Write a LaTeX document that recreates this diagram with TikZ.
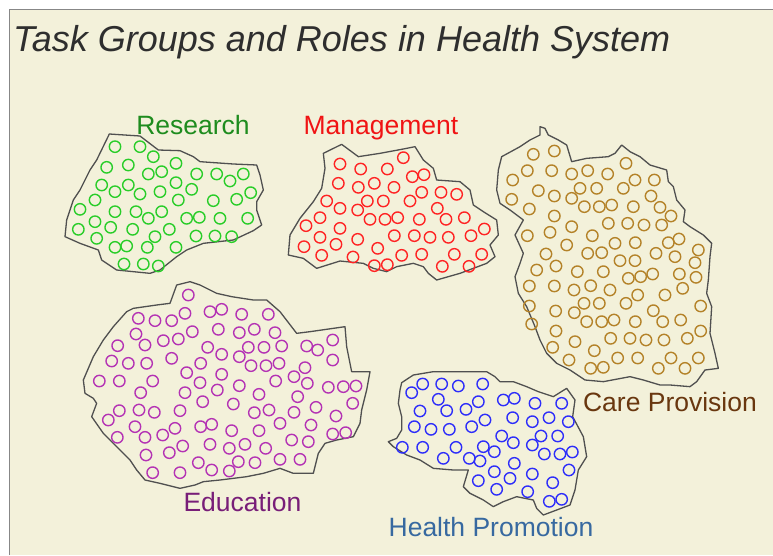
\documentclass[tikz,border=0pt]{standalone}
\usepackage{fontspec}
\setmainfont{Liberation Sans}
\definecolor{paper}{RGB}{243,241,218}
\definecolor{rimgray}{RGB}{135,135,135}
\definecolor{blobline}{RGB}{80,80,80}
\definecolor{resgreen}{RGB}{40,205,40}
\definecolor{resgreentxt}{RGB}{30,140,30}
\definecolor{mgmtred}{RGB}{255,35,35}
\definecolor{mgmtredtxt}{RGB}{240,20,20}
\definecolor{carebrown}{RGB}{180,130,40}
\definecolor{carebrowntxt}{RGB}{105,55,15}
\definecolor{edupurple}{RGB}{180,50,180}
\definecolor{edupurpletxt}{RGB}{120,30,120}
\definecolor{promoblue}{RGB}{45,45,250}
\definecolor{promobluetxt}{RGB}{55,105,160}
\tikzset{blob/.style = {draw=blobline, line width=1.3pt, line join=round}}
\tikzset{person/.style = {draw=#1, line width=1.4pt}}
\tikzset{tag/.style = {anchor=base, inner sep=0, font=\fontsize{26.5}{30}\selectfont}}

\begin{document}
\begin{tikzpicture}[x=1pt, y=-1pt]
    \useasboundingbox (0,0) rectangle (773,555);
    % Paper and frame
    \fill[white] (0,0) rectangle (773,555);
    \fill[paper] (10,10) rectangle (773,555);
    \draw[rimgray, line width=1.8pt] (9.5,555) -- (9.5,9.5) -- (773,9.5);

    \node[anchor=base west, inner sep=0, text=black!82,
          font=\itshape\fontsize{36}{42}\selectfont] (title) at (13,51)
          {Task Groups and Roles in Health System};

    % Research
    \begin{scope}[shift={(60,110)}, x=0.33333pt, y=-0.33333pt]
      \draw[blob] (148,72) -- (240,78) -- (295,120) -- (360,122) -- (400,140) -- (420,155)
        -- (520,162) -- (590,165) -- (600,195) -- (610,240) -- (590,275) -- (590,300)
        -- (605,345) -- (580,362) -- (520,390) -- (430,400) -- (380,420) -- (350,440)
        -- (300,480) -- (270,490) -- (170,480) -- (125,450) -- (115,420) -- (60,400)
        -- (15,380) -- (20,330) -- (40,270) -- (60,240) -- (90,180) -- (110,150) -- cycle;
      \foreach \x/\y in {165/110, 240/110, 280/140, 140/172, 205/165, 265/192, 305/185,
          348/160, 410/192, 470/192, 510/213, 550/192, 125/225, 165/245, 205/225, 240/252,
          300/245, 348/218, 395/238, 460/272, 530/268, 572/248, 105/270, 60/298, 165/305,
          228/305, 265/325, 305/305, 355/270, 380/325, 418/322, 480/325, 563/325, 105/335,
          55/358, 152/352, 218/358, 285/380, 328/358, 408/378, 465/378, 515/380, 110/385,
          165/412, 200/408, 262/412, 348/412, 192/462, 250/462, 295/468}
        \draw[person=resgreen] (\x,\y) circle (5.7pt);
    \end{scope}
    \node[tag, text=resgreentxt] (research) at (193,134) {Research};

    % Management
    \begin{scope}[shift={(280,135)}, x=0.33333pt, y=-0.33333pt]
      \draw[blob] (130,55) -- (185,28) -- (235,65) -- (300,55) -- (370,42) -- (405,35)
        -- (430,75) -- (460,100) -- (470,135) -- (540,140) -- (570,165) -- (580,210)
        -- (610,230) -- (650,255) -- (655,300) -- (630,330) -- (645,365) -- (620,385)
        -- (580,400) -- (540,415) -- (470,435) -- (445,415) -- (430,395) -- (400,385)
        -- (350,395) -- (320,410) -- (280,400) -- (250,385) -- (180,378) -- (110,400)
        -- (70,370) -- (25,360) -- (30,300) -- (60,250) -- (100,200) -- (125,160)
        -- (135,100) -- cycle;
      \foreach \x/\y in {180/87, 242/102, 322/102, 370/68, 397/125, 432/119, 175/145,
          235/157, 283/145, 342/157, 425/172, 483/172, 530/178, 140/198, 180/220, 233/225,
          262/198, 310/198, 390/198, 472/220, 120/248, 270/253, 315/253, 353/248, 418/253,
          498/253, 553/248, 78/272, 180/280, 613/282, 120/307, 233/313, 343/302, 403/302,
          450/307, 505/307, 573/302, 72/335, 168/328, 293/340, 125/361, 219/366, 365/361,
          425/358, 523/358, 605/358, 283/392, 322/389, 487/394, 567/394}
        \draw[person=mgmtred] (\x,\y) circle (5.7pt);
    \end{scope}
    \node[tag, text=mgmtredtxt] (management) at (381,134) {Management};

    % Care Provision
    \begin{scope}[shift={(490,120)}, x=0.33333pt, y=-0.33333pt]
      \draw[blob] (150,20) -- (165,25) -- (175,45) -- (205,60) -- (230,75) -- (245,125)
        -- (290,115) -- (355,110) -- (375,100) -- (395,75) -- (420,95) -- (450,110)
        -- (480,135) -- (530,150) -- (535,185) -- (550,200) -- (560,240) -- (585,270)
        -- (580,305) -- (600,320) -- (640,345) -- (665,370) -- (660,410) -- (655,480)
        -- (650,520) -- (665,560) -- (660,640) -- (675,700) -- (685,745) -- (645,750)
        -- (620,785) -- (600,800) -- (540,795) -- (510,795) -- (460,780) -- (420,770)
        -- (340,785) -- (285,780) -- (240,750) -- (200,730) -- (170,700) -- (150,660)
        -- (135,620) -- (110,560) -- (85,520) -- (75,470) -- (90,430) -- (100,400)
        -- (75,345) -- (100,300) -- (60,270) -- (30,250) -- (20,210) -- (25,150)
        -- (35,110) -- (90,80) -- (120,60) -- (150,45) -- cycle;
      \foreach \x/\y in {130/103, 193/93, 408/130, 112/152, 185/152, 245/162, 293/152,
          353/162, 68/180, 435/180, 493/180, 145/212, 193/228, 270/205, 320/205, 400/205,
          65/238, 245/235, 483/228, 118/267, 283/260, 328/260, 365/255, 430/260, 510/262,
          193/288, 543/288, 245/320, 355/310, 413/310, 462/315, 515/315, 112/347, 180/337,
          307/347, 375/370, 436/368, 535/368, 567/357, 230/375, 168/402, 293/400, 335/398,
          390/422, 435/422, 498/400, 555/410, 625/390, 615/428, 140/450, 198/438, 262/455,
          340/455, 415/475, 452/470, 488/462, 568/462, 618/472, 118/498, 193/498, 252/510,
          302/497, 360/510, 443/525, 525/525, 578/505, 118/558, 197/573, 253/578, 282/550,
          328/550, 408/550, 490/572, 632/558, 125/612, 290/605, 335/605, 372/600, 436/605,
          518/605, 572/600, 198/633, 632/633, 188/682, 255/665, 362/655, 420/655, 468/660,
          522/660, 592/655, 313/692, 237/720, 383/714, 443/714, 543/714, 625/714, 302/745,
          340/742, 505/745, 585/745}
        \draw[person=carebrown] (\x,\y) circle (5.7pt);
    \end{scope}
    \node[tag, text=carebrowntxt] (care) at (670,411) {Care Provision};

    % Education
    \begin{scope}[shift={(80,280)}, x=0.33333pt, y=-0.33333pt]
      \draw[blob] (290,15) -- (330,5) -- (360,15) -- (410,40) -- (455,50) -- (520,60)
        -- (560,60) -- (600,95) -- (650,160) -- (690,155) -- (795,140) -- (800,200)
        -- (815,275) -- (870,275) -- (860,330) -- (845,390) -- (840,430) -- (820,470)
        -- (770,480) -- (735,490) -- (715,520) -- (700,580) -- (640,580) -- (600,565)
        -- (550,580) -- (500,590) -- (420,600) -- (370,605) -- (345,615) -- (300,625)
        -- (240,610) -- (195,600) -- (170,570) -- (150,540) -- (110,500) -- (70,460)
        -- (35,410) -- (50,370) -- (40,355) -- (15,340) -- (10,300) -- (40,230)
        -- (70,180) -- (100,140) -- (140,95) -- (160,85) -- (230,75) -- (270,70) -- cycle;
      \foreach \x/\y in {325/45, 175/115, 225/122, 275/122, 315/100, 390/95, 425/88,
          485/103, 565/103, 168/162, 195/195, 250/182, 295/177, 337/155, 415/148, 478/158,
          523/148, 585/158, 113/197, 383/202, 425/223, 505/202, 552/202, 605/198, 680/198,
          713/210, 758/180, 95/243, 145/250, 200/250, 275/235, 362/250, 478/230, 513/257,
          558/257, 597/250, 675/263, 758/240, 58/303, 118/303, 218/303, 320/278, 425/283,
          360/308, 478/317, 587/303, 642/290, 682/310, 745/322, 790/320, 828/318, 182/338,
          315/338, 412/330, 537/343, 653/350, 118/392, 177/390, 223/397, 300/392, 368/365,
          460/372, 523/398, 567/390, 642/397, 708/382, 818/370, 85/420, 165/440, 285/445,
          362/440, 395/433, 455/452, 537/452, 600/430, 693/435, 768/408, 112/472, 195/472,
          248/465, 635/480, 685/485, 758/462, 797/458, 198/525, 268/518, 308/498, 390/493,
          448/505, 495/493, 557/505, 218/578, 300/578, 355/548, 395/570, 448/573, 475/545,
          525/548, 600/538, 660/538}
        \draw[person=edupurple] (\x,\y) circle (5.7pt);
    \end{scope}
    \node[tag, text=edupurpletxt] (education) at (242.5,511.5) {Education};

    % Health Promotion
    \begin{scope}[shift={(380,360)}, x=0.33333pt, y=-0.33333pt]
      \draw[blob] (65,68) -- (100,45) -- (160,35) -- (320,35) -- (345,50) -- (360,65)
        -- (400,65) -- (440,80) -- (475,95) -- (520,110) -- (560,85) -- (585,120)
        -- (578,170) -- (610,230) -- (620,290) -- (595,330) -- (585,390) -- (570,435)
        -- (530,450) -- (490,465) -- (470,445) -- (460,420) -- (410,410) -- (370,425)
        -- (340,440) -- (310,420) -- (270,400) -- (250,380) -- (265,330) -- (220,330)
        -- (160,325) -- (120,300) -- (80,285) -- (40,260) -- (25,245) -- (50,235)
        -- (65,210) -- (65,170) -- (55,130) -- (60,90) -- cycle;
      \foreach \x/\y in {95/98, 128/72, 185/72, 235/78, 308/72, 175/118, 200/152, 258/148,
          295/125, 370/120, 403/115, 465/130, 545/130, 120/153, 315/180, 398/173, 457/185,
          507/173, 565/185, 103/200, 153/208, 208/208, 275/200, 365/228, 483/228, 533/228,
          67/262, 128/262, 228/262, 310/260, 343/275, 400/248, 457/255, 493/282, 540/282,
          577/276, 190/295, 268/295, 300/303, 403/310, 567/330, 343/335, 457/342, 295/362,
          390/355, 518/368, 350/388, 443/395, 508/424, 545/418}
        \draw[person=promoblue] (\x,\y) circle (5.7pt);
    \end{scope}
    \node[tag, text=promobluetxt] (promotion) at (491,536.5) {Health Promotion};
\end{tikzpicture}
\end{document}
